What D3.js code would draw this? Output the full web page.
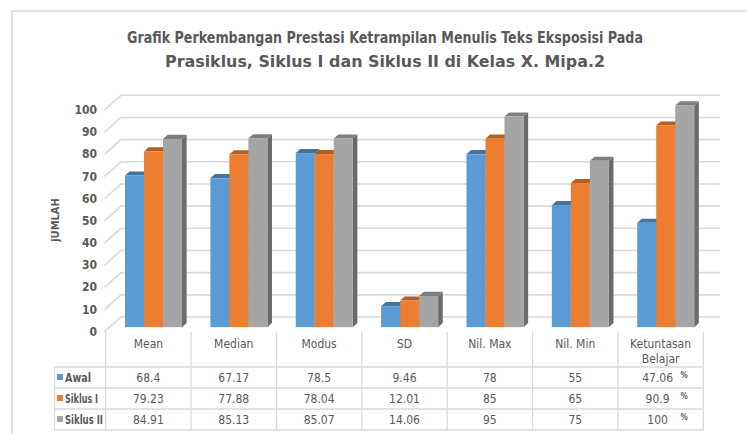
<!DOCTYPE html>
<html>
<head>
<meta charset="utf-8">
<script src="https://cdn.jsdelivr.net/npm/d3@7"></script>
<style>
  body { margin: 0; background: #fff; }
  svg { display: block; font-family: "Liberation Sans Narrow", "Arial Narrow", "DejaVu Sans Condensed", sans-serif; }
</style>
</head>
<body>
<svg id="chart" width="747" height="434"></svg>
<script>
// data
const categories = ["Mean", "Median", "Modus", "SD", "Nil. Max", "Nil. Min", "Ketuntasan Belajar"];
const seriesNames = ["Awal", "Siklus I", "Siklus II"];
const awal = [68.4, 67.17, 78.5, 9.46, 78, 55, 47.06];
const siklus1 = [79.23, 77.88, 78.04, 12.01, 85, 65, 90.9];
const siklus2 = [84.91, 85.13, 85.07, 14.06, 95, 75, 100];
const awalText = ["68.4", "67.17", "78.5", "9.46", "78", "55", "47.06"];
const siklus1Text = ["79.23", "77.88", "78.04", "12.01", "85", "65", "90.9"];
const siklus2Text = ["84.91", "85.13", "85.07", "14.06", "95", "75", "100"];
const yTicks = [0, 10, 20, 30, 40, 50, 60, 70, 80, 90, 100];
const titleLines = [
  "Grafik Perkembangan Prestasi Ketrampilan Menulis Teks Eksposisi Pada",
  "Prasiklus, Siklus I dan Siklus II di Kelas X.  Mipa.2"
];

const series = [awal, siklus1, siklus2];
const seriesText = [awalText, siklus1Text, siklus2Text];
const fronts = ["#5b9bd5", "#ed7d31", "#a5a5a5"];
const tops = ["#44739f", "#b55e22", "#7e7e7e"];
const sides = ["#3f6d98", "#a9541b", "#6b6b6b"];
const textCol = "#595959";

const svg = d3.select("#chart");

// chart border
svg.append("rect")
  .attr("x", 12).attr("y", 11).attr("width", 760).attr("height", 440)
  .attr("fill", "none").attr("stroke", "#d9d9d9").attr("stroke-width", 1.5);

// title, fitted to the width of the original narrow font
const titleWidths = [516, 440];
titleLines.forEach(function (l, i) {
  svg.append("text")
    .attr("x", 385).attr("y", 43 + i * 24)
    .attr("text-anchor", "middle")
    .attr("fill", textCol)
    .attr("textLength", titleWidths[i]).attr("lengthAdjust", "spacingAndGlyphs")
    .style("font-size", "15.5px")
    .style("font-weight", "bold")
    .text(l);
});

// 3d projection: front plane + depth offset
const DX = 16.5, DY = -14.7;
const x = d3.scaleBand().domain(categories).range([105.7, 703.3]);
const y = d3.scaleLinear().domain([0, 100]).range([331.7, 110]);

// gridlines on side wall and back wall
const grid = svg.append("g");
yTicks.forEach(function (t) {
  const y0 = y(t);
  grid.append("polyline")
    .attr("points", [
      [104.5, y0],
      [104.5 + DX, y0 + DY],
      [x.range()[1] + DX, y0 + DY]
    ].join(" "))
    .attr("fill", "none")
    .attr("stroke", "#d9d9d9")
    .attr("stroke-width", 1.6);
});

// tick labels
svg.append("g").selectAll("text")
  .data(yTicks)
  .join("text")
  .attr("x", 97)
  .attr("y", d => y(d) + 4)
  .attr("text-anchor", "end")
  .attr("fill", textCol)
  .style("font-size", "12px")
  .style("font-weight", "bold")
  .text(d => d);

// axis title
svg.append("text")
  .attr("transform", "translate(59,220) rotate(-90)")
  .attr("text-anchor", "middle")
  .attr("fill", textCol)
  .style("font-size", "11px")
  .style("font-weight", "bold")
  .text("jUMLAH");

// bars
const barW = 19;
const depthPos = 0.31, depthLen = 0.28;
const ox = DX * depthPos, oy = DY * depthPos;
const tx = DX * depthLen, ty = DY * depthLen;
const bars = svg.append("g");
categories.forEach(function (c, i) {
  const gx = x(c) + (x.bandwidth() - barW * 3) / 2 + ox;
  series.forEach(function (s, k) {
    const x0 = gx + k * barW, x1 = x0 + barW;
    const yb = y(0) + oy, yt = y(s[i]) + oy;
    // side
    bars.append("polygon")
      .attr("points", [[x1, yt], [x1 + tx, yt + ty], [x1 + tx, yb + ty], [x1, yb]].join(" "))
      .attr("fill", sides[k]);
    // top
    bars.append("polygon")
      .attr("points", [[x0, yt], [x0 + tx, yt + ty], [x1 + tx, yt + ty], [x1, yt]].join(" "))
      .attr("fill", tops[k]);
    // front
    bars.append("rect")
      .attr("x", x0).attr("y", yt)
      .attr("width", barW).attr("height", yb - yt)
      .attr("fill", fronts[k]);
  });
});

// data table
const rowTop = 367, rowH = 21, tableLeft = 54.5;
const rows = seriesNames.map((n, k) => rowTop + k * rowH);
const table = svg.append("g").attr("stroke", "#d9d9d9").attr("stroke-width", 1.3);
// vertical lines
x.domain().concat([null]).forEach(function (c, i) {
  const xx = c === null ? x.range()[1] : x(c);
  table.append("line")
    .attr("x1", xx).attr("x2", xx)
    .attr("y1", y(0)).attr("y2", rowTop + 3 * rowH);
});
table.append("line")
  .attr("x1", tableLeft).attr("x2", tableLeft)
  .attr("y1", rowTop).attr("y2", rowTop + 3 * rowH);
// horizontal lines
d3.range(4).forEach(function (r) {
  table.append("line")
    .attr("x1", tableLeft).attr("x2", x.range()[1])
    .attr("y1", rowTop + r * rowH).attr("y2", rowTop + r * rowH);
});

// category labels
svg.append("g").selectAll("text")
  .data(categories)
  .join("text")
  .attr("text-anchor", "middle")
  .attr("fill", textCol)
  .style("font-size", "12px")
  .each(function (d) {
    const lines = d.length > 10 ? d.split(" ") : [d];
    const t = d3.select(this);
    lines.forEach(function (l, j) {
      t.append("tspan")
        .attr("x", x(d) + x.bandwidth() / 2)
        .attr("y", 348 + j * 15)
        .text(l);
    });
  });

// legend keys and row names
const nameWidths = [26, 33, 38];
seriesNames.forEach(function (n, k) {
  const ry = rows[k] + rowH / 2;
  svg.append("rect")
    .attr("x", 57).attr("y", ry - 3.5)
    .attr("width", 6).attr("height", 6)
    .attr("fill", fronts[k]);
  svg.append("text")
    .attr("x", 65).attr("y", ry + 4)
    .attr("fill", textCol)
    .attr("textLength", nameWidths[k]).attr("lengthAdjust", "spacingAndGlyphs")
    .style("font-size", "12px")
    .style("font-weight", "bold")
    .text(n);
});

// values
seriesText.forEach(function (vals, k) {
  const ry = rows[k] + rowH / 2;
  vals.forEach(function (v, i) {
    const last = i === categories.length - 1;
    svg.append("text")
      .attr("x", x(categories[i]) + x.bandwidth() / 2 - (last ? 3 : 0))
      .attr("y", ry + 4)
      .attr("text-anchor", "middle")
      .attr("fill", textCol)
      .style("font-size", "12px")
      .text(v);
    if (last) {
      svg.append("text")
        .attr("x", 684).attr("y", ry)
        .attr("text-anchor", "middle")
        .attr("fill", textCol)
        .style("font-size", "8px")
        .style("font-weight", "bold")
        .text("%");
    }
  });
});
</script>
</body>
</html>
